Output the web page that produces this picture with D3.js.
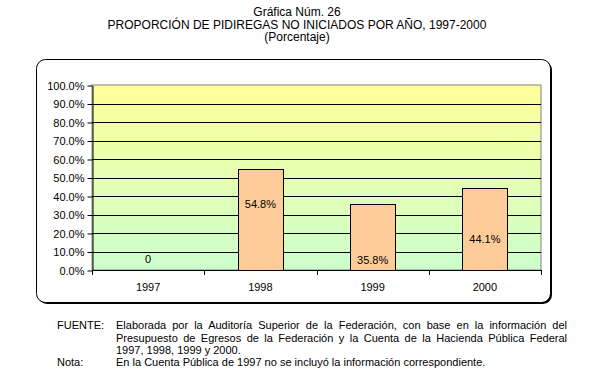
<!DOCTYPE html>
<html>
<head>
<meta charset="utf-8">
<script src="https://cdn.jsdelivr.net/npm/d3@7"></script>
<style>
  body { margin: 0; background: #fff; font-family: Arial, "Liberation Sans", sans-serif; }
  #chart { position: relative; width: 589px; height: 385px; }
  svg { position: absolute; left: 0; top: 0; }
  .note { position: absolute; font-size: 11px; line-height: 12.5px; color: #000; white-space: nowrap; }
  .just { text-align: justify; text-align-last: justify; white-space: normal; }
</style>
</head>
<body>
<div id="chart"></div>
<script>
// Data
const years = ["1997", "1998", "1999", "2000"];
const values = [0, 0.548, 0.358, 0.441];
const valueLabels = ["0", "54.8%", "35.8%", "44.1%"];
const yTicks = [0, 0.1, 0.2, 0.3, 0.4, 0.5, 0.6, 0.7, 0.8, 0.9, 1.0];
const titleLines = ["Gráfica Núm. 26", "PROPORCIÓN DE PIDIREGAS NO INICIADOS POR AÑO, 1997-2000", "(Porcentaje)"];
const fuenteLines = [
    "Elaborada por la Auditoría Superior de la Federación, con base en la información del",
    "Presupuesto de Egresos de la Federación y la Cuenta de la Hacienda Pública Federal",
    "1997, 1998, 1999 y 2000."
];
const nota = "En la Cuenta Pública de 1997 no se incluyó la información correspondiente.";

const width = 589, height = 385;
const plot = { left: 92, right: 541, top: 85, bottom: 270 };

let svg = d3.select("#chart").append("svg").attr("width", width).attr("height", height);

// Titles
svg.selectAll("text.title").data(titleLines).join("text")
    .attr("class", "title")
    .attr("x", 297)
    .attr("y", (d, i) => 16 + i * 12.5)
    .attr("text-anchor", "middle")
    .style("font-size", "12px")
    .text(d => d);

// Chart box with shadow
svg.append("rect").attr("x", 38).attr("y", 61).attr("width", 514).attr("height", 243)
    .attr("rx", 9).attr("fill", "#000");
svg.append("rect").attr("x", 36.5).attr("y", 59.5).attr("width", 514).attr("height", 243)
    .attr("rx", 9).attr("fill", "#fff").attr("stroke", "#000").attr("stroke-width", 1);

// Scales
let yScale = d3.scaleLinear().domain([0, 1]).range([plot.bottom, plot.top]);
let xScale = d3.scaleBand().domain(years).range([plot.left, plot.right]);
let barScale = d3.scaleBand().domain(years).range([plot.left, plot.right])
    .paddingInner(0.6).paddingOuter(0.3);

// Plot background gradient
let grad = svg.append("defs").append("linearGradient").attr("id", "bg")
    .attr("x1", 0).attr("y1", 0).attr("x2", 0).attr("y2", 1);
grad.append("stop").attr("offset", "0%").attr("stop-color", "#ffff99");
grad.append("stop").attr("offset", "100%").attr("stop-color", "#ccffcc");
svg.append("rect").attr("x", plot.left).attr("y", plot.top)
    .attr("width", plot.right - plot.left).attr("height", plot.bottom - plot.top)
    .attr("fill", "url(#bg)").attr("stroke", "#808080");

// Gridlines
svg.append("g").selectAll("line").data(yTicks.filter(d => d > 0 && d < 1)).join("line")
    .attr("x1", plot.left).attr("x2", plot.right)
    .attr("y1", d => Math.round(yScale(d)) + 0.5).attr("y2", d => Math.round(yScale(d)) + 0.5)
    .attr("stroke", "#000");

// Bars
svg.append("g").selectAll("rect").data(values).join("rect")
    .attr("x", (d, i) => Math.round(barScale(years[i])) + 0.5)
    .attr("y", d => Math.round(yScale(d)) + 0.5)
    .attr("width", Math.round(barScale.bandwidth()))
    .attr("height", d => Math.round(yScale(0)) - Math.round(yScale(d)))
    .attr("fill", "#ffcc99")
    .attr("stroke", "#000")
    .style("display", d => d > 0 ? null : "none");

// Y axis
let yAxis = d3.axisLeft(yScale).tickValues(yTicks).tickFormat(d3.format(".1%")).tickSize(5).tickSizeOuter(0);
let gy = svg.append("g").attr("transform", `translate(${plot.left + 0.5},0.5)`).call(yAxis);
gy.select(".domain").attr("stroke", "#000");
gy.selectAll(".tick text").style("font-size", "11px").style("font-family", "Arial, 'Liberation Sans', sans-serif")
    .attr("x", -8).attr("dy", "0.35em");

// X axis line and boundary ticks
let gx = svg.append("g");
gx.append("line").attr("x1", plot.left).attr("x2", plot.right + 1)
    .attr("y1", plot.bottom + 0.5).attr("y2", plot.bottom + 0.5).attr("stroke", "#000");
let bounds = years.map(d => xScale(d)).concat([plot.right]);
gx.selectAll("line.tk").data(bounds).join("line").attr("class", "tk")
    .attr("x1", d => Math.round(d) + 0.5).attr("x2", d => Math.round(d) + 0.5)
    .attr("y1", plot.bottom).attr("y2", plot.bottom + 5).attr("stroke", "#000");
gx.selectAll("text").data(years).join("text")
    .attr("x", d => xScale(d) + xScale.bandwidth() / 2)
    .attr("y", 291)
    .attr("text-anchor", "middle")
    .style("font-size", "11px")
    .text(d => d);

// Value labels (placed where the reference has them)
const labelAt = [0.058, 0.357, 0.054, 0.166];
svg.append("g").selectAll("text").data(valueLabels).join("text")
    .attr("x", (d, i) => xScale(years[i]) + xScale.bandwidth() / 2)
    .attr("y", (d, i) => yScale(labelAt[i]))
    .attr("dy", "0.35em")
    .attr("text-anchor", "middle")
    .style("font-size", "11px")
    .text(d => d);

// Footer notes
let chart = d3.select("#chart");
chart.append("div").attr("class", "note").style("left", "57px").style("top", "319px").text("FUENTE:");
chart.selectAll("div.fl").data(fuenteLines).join("div")
    .attr("class", (d, i) => i < 2 ? "note fl just" : "note fl")
    .style("left", "116px")
    .style("top", (d, i) => (319 + i * 12.5) + "px")
    .style("width", "451px")
    .text(d => d);
chart.append("div").attr("class", "note").style("left", "57px").style("top", "356px").text("Nota:");
chart.append("div").attr("class", "note").style("left", "116px").style("top", "356px").text(nota);
</script>
</body>
</html>
